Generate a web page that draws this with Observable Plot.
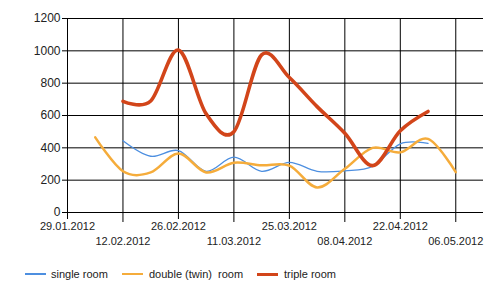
<!DOCTYPE html>
<html><head><meta charset="utf-8">
<script src="https://cdn.jsdelivr.net/npm/d3@7"></script>
<script src="https://cdn.jsdelivr.net/npm/@observablehq/plot@0.6"></script>
<style>
body{margin:0;background:#fff;font-family:Arial,"Liberation Sans",sans-serif;}
#legend{position:relative;width:500px;height:38px;font-size:11px;color:#222;}
#legend .sw{position:absolute;width:21px;}
#legend .tx{position:absolute;line-height:12px;white-space:pre;}
</style></head><body>
<div id="chart"></div>
<div id="legend"></div>
<script>
// weekly observation dates
const weeks = ["2012-02-05","2012-02-12","2012-02-19","2012-02-26","2012-03-04","2012-03-11","2012-03-18",
               "2012-03-25","2012-04-01","2012-04-08","2012-04-15","2012-04-22","2012-04-29","2012-05-06"];
const seriesNames = ["single room", "double (twin)  room", "triple room"];
const singleRoom = [null, 444, 348, 383, 255, 342, 255, 310, 255, 258, 285, 425, 428, null];
const doubleRoom = [465, 255, 248, 365, 248, 308, 292, 290, 155, 270, 400, 372, 455, 250];
const tripleRoom = [null, 688, 690, 1005, 610, 500, 975, 835, 655, 490, 290, 506, 625, null];
const xTickDates = ["2012-01-29","2012-02-12","2012-02-26","2012-03-11","2012-03-25","2012-04-08","2012-04-22","2012-05-06"];
const xDomain = ["2012-01-29","2012-05-13"];
const yTicks = [0, 200, 400, 600, 800, 1000, 1200];
const colors = ["#4d8fe0", "#f5ac3b", "#d2451a"];
const widths = [1.3, 2.5, 3.6];

const parse = d3.utcParse("%Y-%m-%d");
const fmt = d3.utcFormat("%d.%m.%Y");
const allValues = [singleRoom, doubleRoom, tripleRoom];
const rows = [];
allValues.forEach((vals, s) => vals.forEach((v, i) => {
  if (v != null) rows.push({series: seriesNames[s], date: parse(weeks[i]), value: v});
}));
const xTicks = xTickDates.map(parse);
const row1 = xTicks.filter((d, i) => i % 2 === 0);
const row2 = xTicks.filter((d, i) => i % 2 === 1);

const lineMarks = seriesNames.map((name, s) =>
  Plot.line(rows.filter(r => r.series === name), {
    x: "date", y: "value", stroke: colors[s], strokeWidth: widths[s], curve: "cardinal"
  }));

const chart = Plot.plot({
  width: 500, height: 258,
  marginLeft: 67, marginRight: 17, marginTop: 18, marginBottom: 46,
  style: {fontFamily: 'Arial, "Liberation Sans", sans-serif', fontSize: "12px", color: "#222", background: "#fff"},
  x: {type: "utc", domain: xDomain.map(parse)},
  y: {domain: [0, 1200]},
  marks: [
    Plot.gridY({ticks: yTicks, stroke: "#000", strokeOpacity: 1}),
    Plot.gridX({ticks: xTicks, stroke: "#000", strokeOpacity: 1}),
    Plot.axisY({ticks: yTicks, tickSize: 5, tickPadding: 2, tickFormat: d => String(d), fontSize: 12, stroke: "#000", label: null}),
    Plot.axisX({ticks: row1, tickSize: 7, tickPadding: 3, tickFormat: fmt, fontSize: 11, stroke: "#000", label: null}),
    Plot.axisX({ticks: row2, tickSize: 10, tickPadding: 15, tickFormat: fmt, fontSize: 11, stroke: "#000", label: null}),
    ...lineMarks
  ]
});
document.getElementById("chart").appendChild(chart);

// legend
const legend = document.getElementById("legend");
const legendPos = [[25, 51], [122, 149], [257, 284]];
const swH = [2, 2, 3];
seriesNames.forEach((name, s) => {
  const sw = document.createElement("div");
  sw.className = "sw";
  sw.style.left = legendPos[s][0] + "px";
  sw.style.top = (16 - swH[s] / 2) + "px";
  sw.style.height = swH[s] + "px";
  sw.style.background = colors[s];
  legend.appendChild(sw);
  const tx = document.createElement("span");
  tx.className = "tx";
  tx.style.left = legendPos[s][1] + "px";
  tx.style.top = "10px";
  tx.textContent = name;
  legend.appendChild(tx);
});
</script>
</body></html>
